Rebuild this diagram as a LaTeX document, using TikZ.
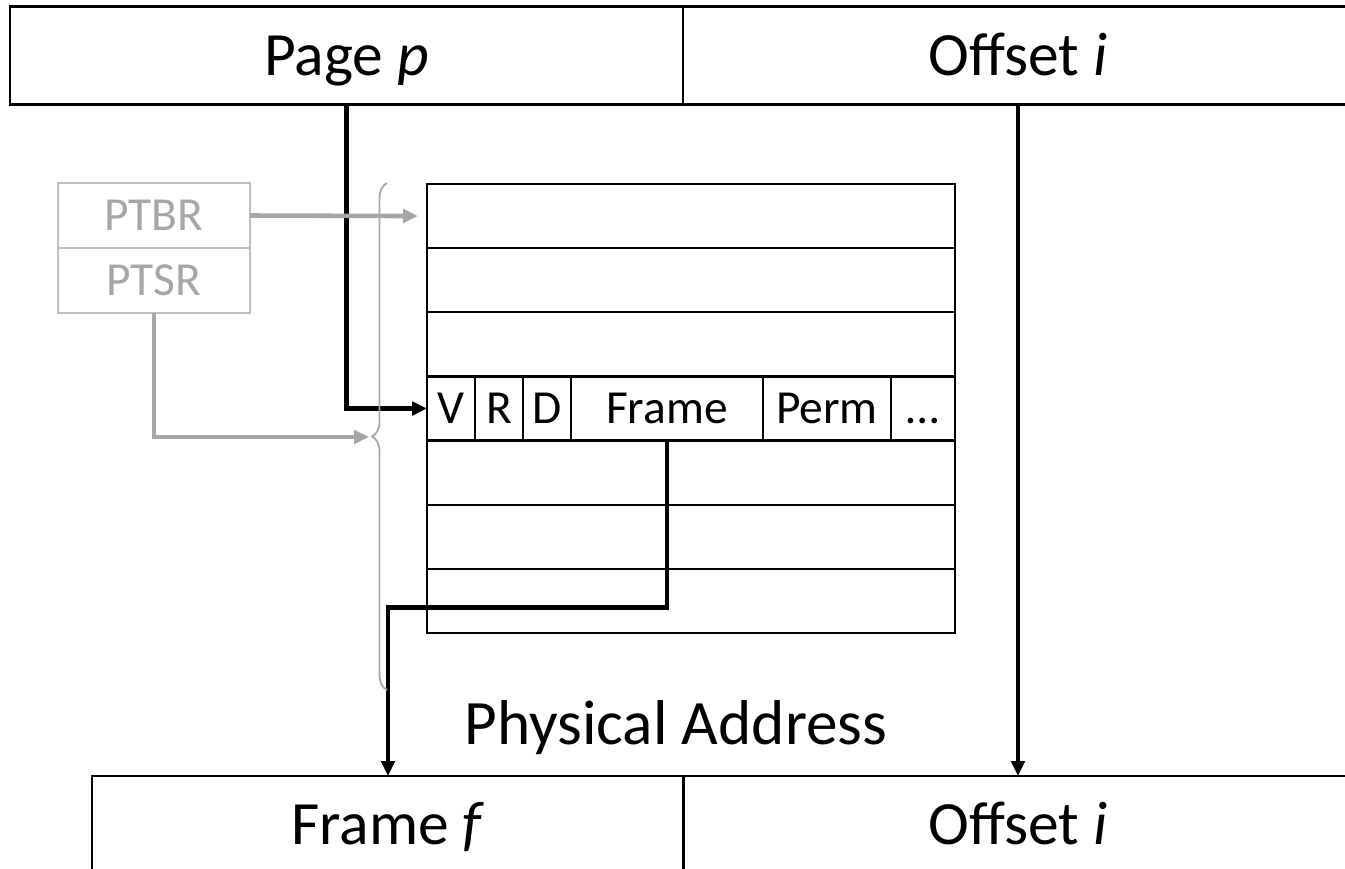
\documentclass[tikz,border=0pt]{standalone}
\usepackage{fontspec}
\setmainfont{Carlito}
\usetikzlibrary{arrows.meta, positioning, decorations.pathreplacing}
\definecolor{regline}{HTML}{BFBFBF}
\definecolor{regtext}{HTML}{A6A6A6}

\begin{document}
\begin{tikzpicture}[
  addrbox/.style={rectangle, draw=black, line width=1.3pt, minimum height=1.96cm, font=\fontsize{35}{40}\selectfont, text height=22.5pt, text depth=0pt, inner sep=0pt, outer sep=0pt},
  rowbox/.style={rectangle, draw=black, line width=1.3pt, minimum width=10.56cm, minimum height=1.283cm, inner sep=0pt, outer sep=0pt},
  fieldbox/.style={rectangle, draw=black, line width=1.3pt, minimum height=1.283cm, font=\fontsize{27}{30}\selectfont, text height=17.4pt, text depth=0pt, inner sep=0pt, outer sep=0pt},
  regbox/.style={rectangle, draw=regline, line width=1.3pt, minimum width=3.84cm, minimum height=1.3cm, font=\fontsize{27}{30}\selectfont, text height=17.4pt, text depth=0pt, text=regtext, inner sep=0pt, outer sep=0pt},
  arr/.style={-{Triangle[length=0.3cm, width=0.27cm]}, line width=2.8pt, black},
  grayarr/.style={-{Triangle[length=0.3cm, width=0.27cm]}, line width=2.6pt, regtext},
]
  \useasboundingbox (0,0) rectangle (26.9,-17.38);

  % Virtual address
  \node[addrbox, minimum width=13.46cm] (page) at (6.93,-1.11) {Page \textit{p}};
  \node[addrbox, minimum width=13.4cm] (offv) at (20.36,-1.11) {Offset \textit{i}};

  % Page table rows
  \foreach \r in {0,1,2,4,5,6}
    \node[rowbox] (row\r) at (13.82,{-3.68-1.283*(\r+0.5)}) {};

  % Entry fields
  \node[fieldbox, minimum width=0.96cm] (v) at (9.02,{-3.68-1.283*3.5}) {V};
  \node[fieldbox, minimum width=0.96cm, right=0pt of v] (r) {R};
  \node[fieldbox, minimum width=0.96cm, right=0pt of r] (d) {D};
  \node[fieldbox, minimum width=3.84cm, right=0pt of d] (fr) {Frame};
  \node[fieldbox, minimum width=2.56cm, right=0pt of fr] (perm) {Perm};
  \node[fieldbox, minimum width=1.28cm, right=0pt of perm] (more) {…};

  % Physical address
  \node[font=\fontsize{36}{40}\selectfont] (phys) at (13.52,-14.55) {Physical Address};
  \node[addrbox, minimum width=11.84cm] (framep) at (7.76,-16.5) {Frame \textit{f}};
  \node[addrbox, minimum width=13.4cm] (offp) at (20.36,-16.5) {Offset \textit{i}};

  \draw[arr] (page.south) |- (v.west);
  \draw[arr] (offv.south) -- (offp.north);
  \draw[arr] (fr.south) -- ++(0,-3.34) -| (framep.north);

  % Registers
  \node[regbox] (ptbr) at (3.08,-4.31) {PTBR};
  \node[regbox, below=0pt of ptbr] (ptsr) {PTSR};
  \coordinate (btop) at (7.74,-3.66);
  \coordinate (bbot) at (7.74,-13.8);
  \coordinate (btip) at (7.38,-8.74);

  \draw[regtext, line width=1pt, decorate, decoration={brace, amplitude=0.3cm}] (bbot) -- (btop);
  \draw[grayarr] (ptbr.east) -- ([xshift=-0.18cm]row0.west);
  \draw[grayarr] (ptsr.south) |- (btip);
\end{tikzpicture}
\end{document}
